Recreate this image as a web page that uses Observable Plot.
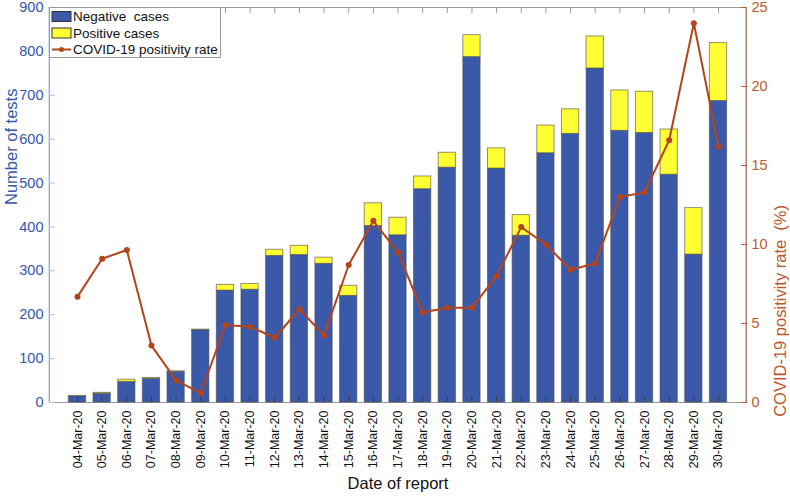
<!DOCTYPE html>
<html><head><meta charset="utf-8">
<script src="https://cdn.jsdelivr.net/npm/d3@7"></script>
<script src="https://cdn.jsdelivr.net/npm/@observablehq/plot@0.6"></script>
<style>body{margin:0;background:#fff} #chart{width:790px;height:499px}</style>
</head><body><div id="chart"></div>
<script>
const dates = ["04-Mar-20","05-Mar-20","06-Mar-20","07-Mar-20","08-Mar-20","09-Mar-20","10-Mar-20","11-Mar-20","12-Mar-20","13-Mar-20","14-Mar-20","15-Mar-20","16-Mar-20","17-Mar-20","18-Mar-20","19-Mar-20","20-Mar-20","21-Mar-20","22-Mar-20","23-Mar-20","24-Mar-20","25-Mar-20","26-Mar-20","27-Mar-20","28-Mar-20","29-Mar-20","30-Mar-20"];
const negative = [14,20,47,54,70,165,255,257,334,336,316,243,402,381,486,535,787,533,380,568,612,761,619,614,519,337,687];
const positive = [1,2,5,2,1,1,13,13,14,21,14,23,52,40,29,34,50,46,47,63,56,73,92,94,103,106,132];
const rate = [6.7,9.1,9.65,3.6,1.4,0.6,4.9,4.8,4.1,5.9,4.25,8.7,11.5,9.5,5.7,6.0,6.0,8.0,11.1,10.0,8.4,8.8,13.0,13.3,16.6,24.0,16.2];
const leftTicks = [0,100,200,300,400,500,600,700,800,900];
const rightTicks = [0,5,10,15,20,25];

const K = 900 / 25; // right-axis (%) to left-axis (tests) units
const font = "'Liberation Sans', Arial, Helvetica, sans-serif";
const blue = "#3a5aa9", yellow = "#ffff33", lineColor = "#b3441c";
const blueText = "#3457ac", lightBlue = "#a9bfe6", orange = "#c0582c";

const rows = dates.flatMap((d, i) => [
  {date: d, type: "Negative", value: negative[i]},
  {date: d, type: "Positive", value: positive[i]}
]);
const rateRows = dates.map((d, i) => ({date: d, r: rate[i] * K}));
const rightVals = rightTicks.map(t => t * K);

const chart = Plot.plot({
  width: 790, height: 499,
  marginLeft: 49, marginRight: 44, marginTop: 7, marginBottom: 97,
  style: {fontFamily: font, background: "#fff", overflow: "visible"},
  x: {domain: dates, paddingInner: 0.3, paddingOuter: 0.786, round: false, label: null},
  y: {domain: [0, 900], label: null},
  color: {domain: ["Negative", "Positive"], range: [blue, yellow]},
  marks: [
    Plot.frame({stroke: "#999"}),
    Plot.barY(rows, {x: "date", y: "value", fill: "type", stroke: "#4a4a4a", strokeOpacity: 0.6, strokeWidth: 1}),
    Plot.axisX({anchor: "bottom", tickSize: 6, dy: -6, tickFormat: () => "", stroke: "#3a3f55", label: null}),
    Plot.axisX({anchor: "top", tickSize: 5, dy: 5, tickFormat: () => "", stroke: "#999", label: null}),
    Plot.axisX({anchor: "bottom", tickSize: 0, tickPadding: 8, tickRotate: -90, fontSize: 12.5, fill: "#111", label: null}),
    Plot.axisY(leftTicks, {anchor: "left", tickSize: 0, tickPadding: 6, fontSize: 14.5, fill: blueText, label: null}),
    Plot.axisY(leftTicks, {anchor: "left", tickSize: 6, dx: 6, tickFormat: () => "", stroke: lightBlue, label: null}),
    Plot.axisY(rightVals, {anchor: "right", tickSize: 0, tickPadding: 5, tickFormat: d => d / K, fontSize: 14.5, fill: orange, label: null}),
    Plot.axisY(rightVals, {anchor: "right", tickSize: 6, dx: -6, tickFormat: () => "", stroke: orange, label: null}),
    Plot.line(rateRows, {x: "date", y: "r", stroke: lineColor, strokeWidth: 2}),
    Plot.dot(rateRows, {x: "date", y: "r", fill: lineColor, r: 3}),
    Plot.text(["Number of tests"], {text: d => d, frameAnchor: "left", rotate: -90, dx: -38, fontSize: 16.5, fill: blueText}),
    Plot.text(["COVID-19 positivity rate  (%)"], {text: d => d, frameAnchor: "right", rotate: -90, dx: 34, fontSize: 16.5, fill: orange}),
    Plot.text(["Date of report"], {text: d => d, frameAnchor: "bottom", dy: 86, fontSize: 16.5, fill: "#111"})
  ]
});
document.getElementById("chart").appendChild(chart);

// colored left and right axis lines, from the scales' ranges
const svg = d3.select(chart);
const xr = chart.scale("x").range, yr = chart.scale("y").range;
svg.append("line").attr("x1", xr[0]).attr("x2", xr[0]).attr("y1", yr[0]).attr("y2", yr[1]).attr("stroke", lightBlue);
svg.append("line").attr("x1", xr[1]).attr("x2", xr[1]).attr("y1", yr[0]).attr("y2", yr[1]).attr("stroke", orange).attr("stroke-opacity", 0.8);

// legend
const lg = svg.append("g").attr("font-family", font).attr("font-size", 13.5).attr("fill", "#111").attr("text-anchor", "start");
lg.append("rect").attr("x", xr[0] + 0.5).attr("y", 7.5).attr("width", 171).attr("height", 50).attr("fill", "#fff").attr("stroke", "#999");
lg.append("rect").attr("x", 52).attr("y", 11.5).attr("width", 19).attr("height", 10).attr("fill", blue).attr("stroke", "#333");
lg.append("rect").attr("x", 52).attr("y", 28).attr("width", 19).attr("height", 10).attr("fill", yellow).attr("stroke", "#333");
lg.append("line").attr("x1", 52).attr("x2", 71).attr("y1", 49.5).attr("y2", 49.5).attr("stroke", lineColor).attr("stroke-width", 2);
lg.append("circle").attr("cx", 61.5).attr("cy", 49.5).attr("r", 2.5).attr("fill", lineColor);
[["Negative\u00a0 cases", 16.5], ["Positive cases", 33], ["COVID-19 positivity rate", 49.5]].forEach(([t, y]) => {
  lg.append("text").attr("x", 73).attr("y", y).attr("dy", "0.35em").attr("text-anchor", "start").text(t);
});
</script>
</body></html>
